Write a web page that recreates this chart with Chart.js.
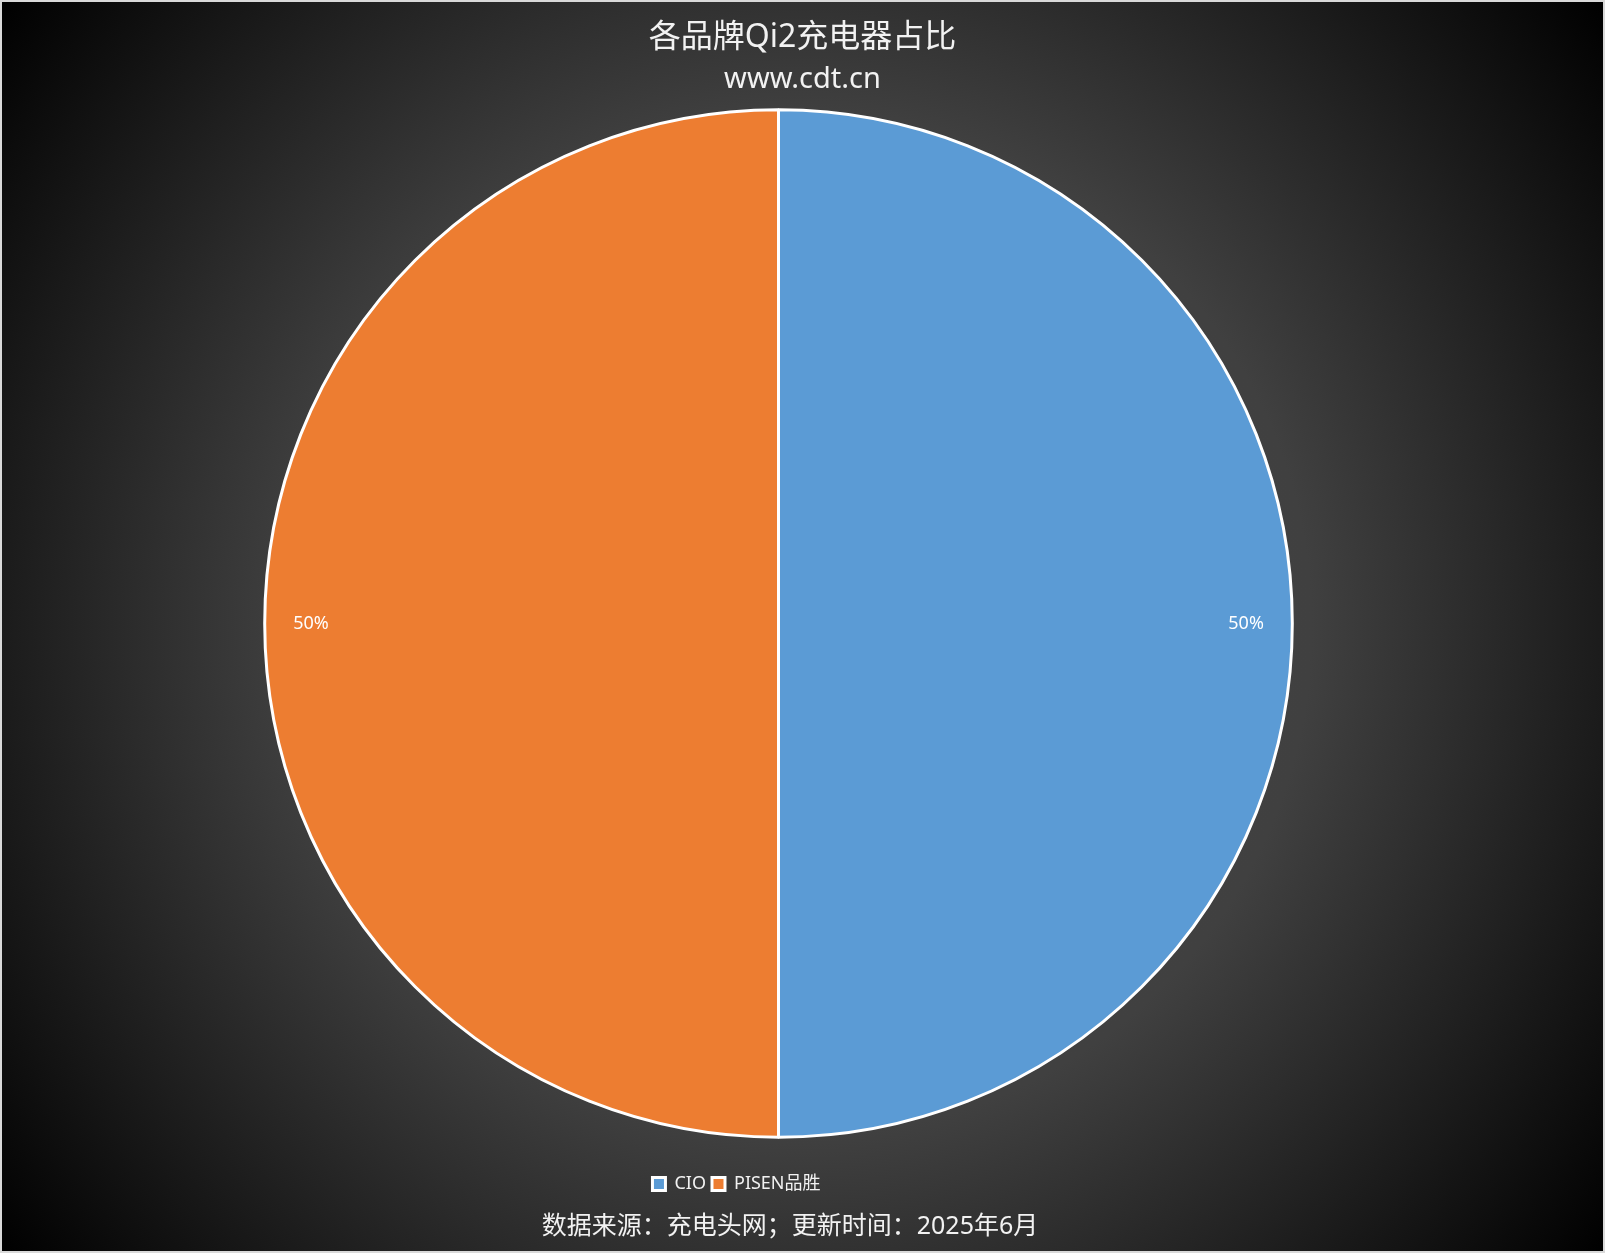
<!DOCTYPE html>
<html>
<head>
<meta charset="utf-8">
<script src="https://cdn.jsdelivr.net/npm/chart.js@4.4.1/dist/chart.umd.min.js"></script>
<style>
  html, body { margin: 0; padding: 0; }
  #wrap {
    position: relative;
    width: 1605px;
    height: 1253px;
    background: radial-gradient(circle farthest-corner at 50% 50%, #474747 0%, #404040 50%, #000000 100%);
    overflow: hidden;
  }
  #frame {
    position: absolute; left: 0; top: 0; right: 0; bottom: 0;
    border: 2px solid #d9d9d9;
    pointer-events: none;
  }
  #chartBox { position: absolute; left: 0; top: 0; width: 1605px; height: 1253px; }
  #footer {
    position: absolute; left: 0; width: 1580px; top: 1209px;
    text-align: center;
    font-family: 'Noto Sans', 'Noto Sans CJK SC', sans-serif;
    font-size: 25px; line-height: 30px;
    color: #f2f2f2;
  }
</style>
</head>
<body>
<div id="wrap">
  <div id="chartBox"><canvas id="pieChart"></canvas></div>
  <div id="footer">数据来源：充电头网；更新时间：2025年6月</div>
  <div id="frame"></div>
</div>
<script>
// 데이터
var brands = ['CIO', 'PISEN品胜'];
var shares = [50, 50];
var sliceColors = ['#5b9bd5', '#ed7d31'];

var fontFamily = "'Noto Sans', 'Noto Sans CJK SC', sans-serif";

// 배치 보정 + 조각 위 퍼센트 라벨
var pctLabels = {
  id: 'pctLabels',
  afterLayout: function (chart) {
    // 원은 왼쪽으로 24px, 범례는 66px 이동
    chart.chartArea.left -= 24;
    chart.chartArea.right -= 24;
    chart.legend.left -= 66;
    chart.legend.right -= 66;
  },
  afterDatasetsDraw: function (chart) {
    var ctx = chart.ctx;
    var meta = chart.getDatasetMeta(0);
    var values = chart.data.datasets[0].data;
    var total = values.reduce(function (a, b) { return a + b; }, 0);
    ctx.save();
    ctx.font = '18px ' + fontFamily;
    ctx.fillStyle = '#ffffff';
    ctx.textAlign = 'center';
    ctx.textBaseline = 'middle';
    meta.data.forEach(function (arc, i) {
      var p = arc.getProps(['x', 'y', 'startAngle', 'endAngle', 'outerRadius'], true);
      var mid = (p.startAngle + p.endAngle) / 2;
      var r = p.outerRadius * 0.91;
      var pct = Math.round(values[i] / total * 100) + '%';
      ctx.fillText(pct, p.x + Math.cos(mid) * r, p.y + Math.sin(mid) * r);
    });
    ctx.restore();
  }
};

var ctx = document.getElementById('pieChart').getContext('2d');
var chart = new Chart(ctx, {
  type: 'pie',
  data: {
    labels: brands,
    datasets: [{
      data: shares,
      backgroundColor: sliceColors,
      borderColor: '#ffffff',
      borderWidth: 3
    }]
  },
  options: {
    responsive: true,
    maintainAspectRatio: false,
    animation: false,
    layout: { padding: { top: 0, bottom: 50, left: 0, right: 0 } },
    plugins: {
      title: {
        display: true,
        text: '各品牌Qi2充电器占比',
        color: '#f2f2f2',
        font: { size: 32, weight: 'normal', family: fontFamily },
        padding: { top: 19, bottom: 4 }
      },
      subtitle: {
        display: true,
        text: 'www.cdt.cn',
        color: '#f2f2f2',
        font: { size: 29, weight: 'normal', family: fontFamily },
        padding: { top: 1, bottom: 11 }
      },
      legend: {
        position: 'bottom',
        title: {
          display: true,
          text: ' ',
          font: { size: 1 },
          padding: { top: 0, bottom: 29 }
        },
        labels: {
          color: '#f2f2f2',
          boxWidth: 13,
          boxHeight: 13,
          padding: 6,
          font: { size: 18, family: fontFamily }
        }
      },
      tooltip: { enabled: false }
    }
  },
  plugins: [pctLabels]
});
</script>
</body>
</html>
